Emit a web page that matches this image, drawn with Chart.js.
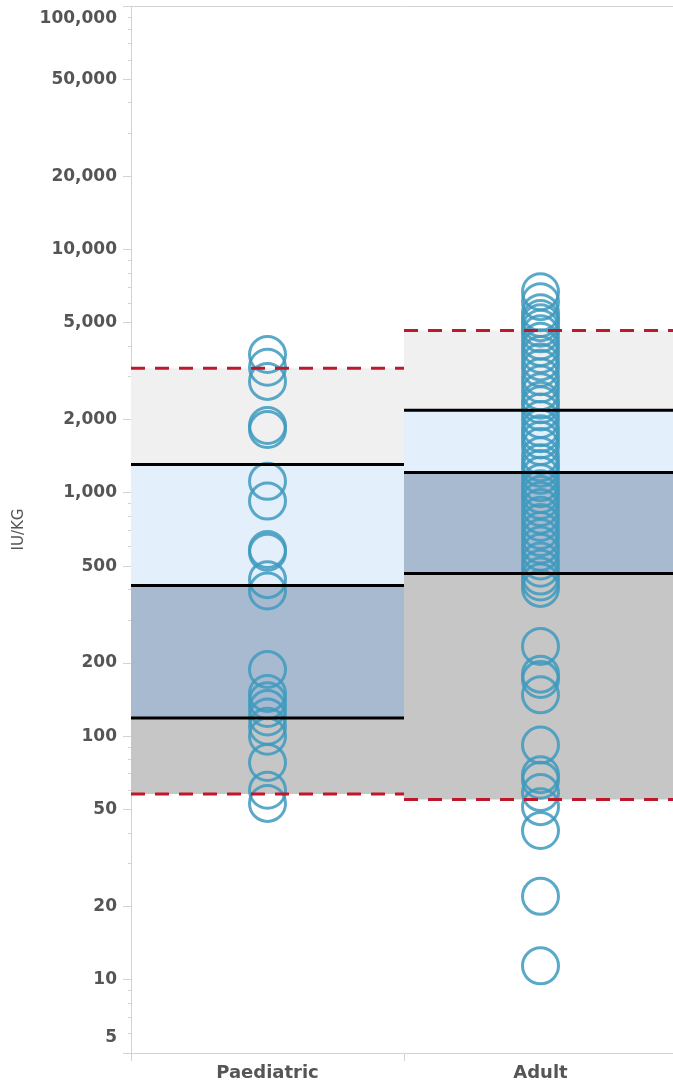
<!DOCTYPE html>
<html><head><meta charset="utf-8">
<script src="https://cdn.jsdelivr.net/npm/chart.js@4/dist/chart.umd.min.js"></script>
<style>
html,body{margin:0;padding:0;background:#fff;overflow:hidden;}
#wrap{width:678px;height:1086px;position:relative;}
</style></head><body>
<div id="wrap"><canvas id="c"></canvas></div>
<script>
// ---- data ----
const categories = ['Paediatric', 'Adult'];
const lowerLimit = [58, 55];        // red dashed (lower)
const lowerLine  = [119, 466];      // black
const middleLine = [416, 1213];     // black
const upperLine  = [1309, 2183];    // black
const upperLimit = [3250, 4650];    // red dashed (upper)
const paediatricValues = [3700, 3280, 2870, 1890, 1820, 1115, 925, 585, 570, 440, 395,
  188, 150, 140, 130, 120, 110, 100, 78, 60, 53];
const adultValues = [6700, 6100, 5500, 5200, 5000, 4750, 4500, 4200, 3950, 3700, 3450,
  3250, 3000, 2800, 2600, 2400, 2300, 2150, 2000, 1850, 1750, 1650, 1550, 1420, 1330,
  1260, 1180, 1100, 1040, 985, 930, 870, 810, 755, 700, 655, 610, 570, 525, 490, 455,
  430, 405, 234, 180, 171, 148, 92, 69.5, 66, 58.7, 51.4, 41, 22, 11.4];
const yTickValues = [5, 10, 20, 50, 100, 200, 500, 1000, 2000, 5000, 10000, 20000, 50000, 100000];
const yMin = 5, yMax = 100000;
const yTitle = 'IU/KG';

// ---- styles ----
const bandColors = ['#c6c6c6', '#a7bacf', '#e3effb', '#f0f0f0'];
const RED = '#c0172a';
const AXIS = '#d3d3d3';
const TEXT = '#555555';
const FONT = 'DejaVu Sans';

const datasets = [];
categories.forEach((cat, i) => {
  const levels = [lowerLimit[i], lowerLine[i], middleLine[i], upperLine[i], upperLimit[i]];
  levels.forEach((v, k) => {
    const dashed = (k === 0 || k === 4);
    datasets.push({
      type: 'line',
      label: cat + ' ' + k,
      data: [{x: i, y: v}, {x: i + 1, y: v}],
      borderColor: dashed ? RED : '#000000',
      borderWidth: 3,
      borderDash: dashed ? [14, 10] : [],
      borderCapStyle: 'butt',
      pointRadius: 0,
      pointHoverRadius: 0,
      fill: k === 0 ? false : '-1',
      backgroundColor: k === 0 ? 'rgba(0,0,0,0)' : bandColors[k - 1],
      tension: 0
    });
  });
});
const pointStyle = {
  type: 'scatter',
  showLine: false,
  pointRadius: 18,
  pointHoverRadius: 18,
  pointBorderWidth: 3,
  borderWidth: 3,
  pointBackgroundColor: 'rgba(0,0,0,0)',
  backgroundColor: 'rgba(0,0,0,0)',
  borderColor: 'rgba(62,154,190,0.85)',
  pointBorderColor: 'rgba(62,154,190,0.85)'
};
datasets.push(Object.assign({label: categories[0], data: paediatricValues.map(v => ({x: 0.5, y: v}))}, pointStyle));
datasets.push(Object.assign({label: categories[1], data: adultValues.map(v => ({x: 1.5, y: v}))}, pointStyle));

const edgeLabels = {
  id: 'edgeLabels',
  beforeDraw(chart) {
    const s = chart.scales.y;
    const a = chart.chartArea;
    s.getLabelItems().forEach(it => {
      const t = it.options.translation;
      if (t[1] < a.top + 13) t[1] = a.top + 13;
      if (t[1] > a.bottom - 15) t[1] = a.bottom - 15;
    });
  }
};

const isMajor = v => yTickValues.includes(v);

new Chart(document.getElementById('c'), {
  data: {datasets},
  plugins: [edgeLabels],
  options: {
    responsive: true,
    maintainAspectRatio: false,
    animation: false,
    events: [],
    layout: {autoPadding: false, padding: {top: 6, left: 0, right: 1, bottom: 0}},
    plugins: {
      legend: {display: false},
      tooltip: {enabled: false},
      filler: {drawTime: 'beforeDatasetsDraw'}
    },
    scales: {
      x: {
        type: 'linear',
        min: 0,
        max: categories.length,
        afterBuildTicks: s => { s.ticks = categories.map((c, i) => ({value: i + 0.5})); },
        ticks: {
          callback: (v, i) => categories[i],
          autoSkip: false, maxRotation: 0, color: TEXT, padding: 2,
          font: {family: FONT, size: 18, weight: 'bold'}
        },
        grid: {offset: true, drawOnChartArea: false, tickLength: 8, color: AXIS, tickColor: AXIS},
        border: {color: AXIS, width: 1},
        afterFit: s => { s.height = 33; s.paddingLeft = 0; s.paddingRight = 0; }
      },
      y: {
        type: 'logarithmic',
        min: yMin,
        max: yMax,
        afterBuildTicks: s => {
          const t = [];
          for (let e = 0; e <= 5; e++) {
            for (let m = 1; m <= 9; m++) {
              const v = m * Math.pow(10, e);
              if (v >= yMin && v <= yMax) t.push({value: v});
            }
          }
          s.ticks = t;
        },
        ticks: {
          autoSkip: false,
          callback: v => isMajor(v) ? v.toLocaleString('en-US') : '',
          color: TEXT, padding: 6,
          font: {family: FONT, size: 17, weight: 'bold'}
        },
        grid: {
          drawOnChartArea: true, tickLength: 8, tickColor: AXIS,
          color: c => (c.tick && c.tick.value === yMax) ? AXIS : 'rgba(0,0,0,0)',
          tickBorderDash: c => (c.tick && isMajor(c.tick.value)) ? [] : [3, 5],
          tickBorderDashOffset: c => (c.tick && isMajor(c.tick.value)) ? 0 : 3
        },
        border: {color: AXIS, width: 1},
        title: {
          display: true, text: yTitle, color: TEXT,
          font: {family: FONT, size: 15, weight: 'normal'},
          padding: {top: 10, bottom: 0}
        },
        afterFit: s => { s.width = 131; s.paddingTop = 0; s.paddingBottom = 0; }
      }
    }
  }
});
</script>
</body></html>
